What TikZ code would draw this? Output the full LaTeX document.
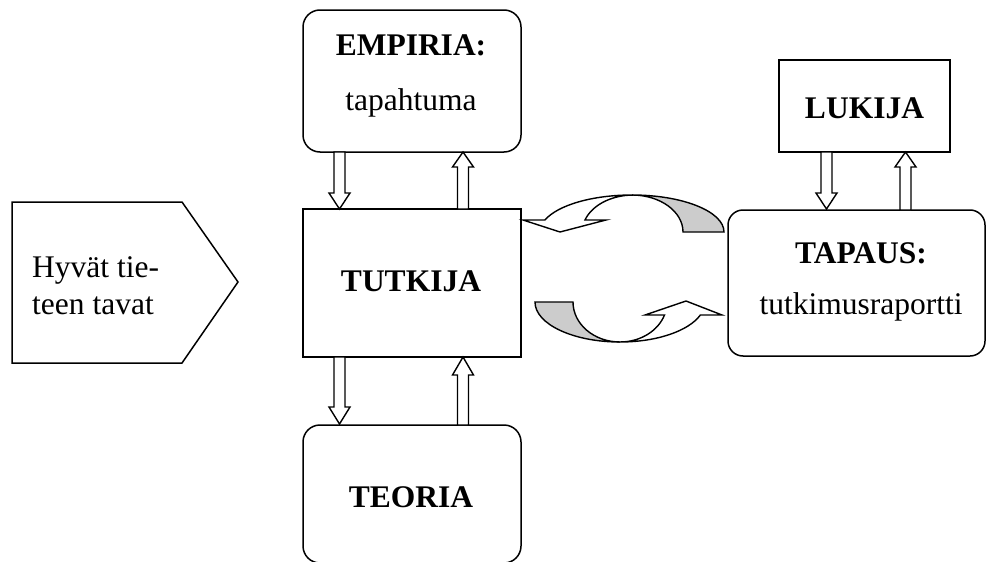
\documentclass[tikz,border=0pt]{standalone}
\usepackage{fontspec}
\setmainfont{Liberation Serif}
\newcommand\vblk[4]{% x, y tail, y tip, y head base
  \draw[blk] (#1-5.5,#2) -- (#1-5.5,#4) -- (#1-10.5,#4) -- (#1,#3) -- (#1+10.5,#4) -- (#1+5.5,#4) -- (#1+5.5,#2) -- cycle;}
\begin{document}
\begin{tikzpicture}[x=1pt,y=-1pt,
  every node/.style={inner sep=0pt},
  box/.style={draw, line width=1.5pt, fill=white},
  rbox/.style={box, rounded corners=17pt},
  lbl/.style={anchor=base, font=\fontsize{31.5}{37}\selectfont},
  blbl/.style={lbl, font=\fontsize{31.5}{37}\selectfont\bfseries},
  blk/.style={draw, line width=1.4pt, fill=white, line join=miter},
  band/.style={draw, line width=1.4pt, line join=miter}]
\useasboundingbox (0,0) rectangle (986,562);
\fill[white] (0,0) rectangle (986,562);

% boxes
\node[rbox, minimum width=218pt, minimum height=142pt] (empiria) at (412,81) {};
\node[box, minimum width=218pt, minimum height=148pt] (tutkija) at (412,283) {};
\node[rbox, minimum width=218pt, minimum height=138pt] (teoria) at (412,494) {};
\node[box, minimum width=171pt, minimum height=92pt] (lukija) at (864.5,106) {};
\node[rbox, rounded corners=15pt, minimum width=257pt, minimum height=146pt] (tapaus) at (856.5,283) {};

% pentagon
\draw[line width=1.5pt, line join=miter] (12,202) -- (182,202) -- (238,282) -- (182,363) -- (12,363) -- cycle;

% texts
\node[blbl] (t1) at (411,55) {EMPIRIA:};
\node[lbl] (t2) at (411,110) {tapahtuma};
\node[blbl] (t3) at (411,291) {TUTKIJA};
\node[blbl] (t4) at (411,507) {TEORIA};
\node[blbl] (t5) at (864.5,118) {LUKIJA};
\node[blbl] (t6) at (861,263) {TAPAUS:};
\node[lbl] (t7) at (861,314) {tutkimusraportti};
\node[lbl, anchor=base west] (t8) at (32,277) {Hyvät tie-};
\node[lbl, anchor=base west] (t9) at (32,314) {teen tavat};

% block arrows
\vblk{339.5}{152}{209}{193}
\vblk{463}{209}{152}{167}
\vblk{339.5}{357}{424}{407}
\vblk{463}{425}{357}{375}
\vblk{826.5}{152}{209}{193}
\vblk{905.5}{210}{152}{167}

% upper curved arrow
\path[band, fill=black!20] (632,195) arc[start angle=270, end angle=360, x radius=92, y radius=37]
  -- (683,232) arc[start angle=360, end angle=270, x radius=51, y radius=37] -- cycle;
\path[band, fill=white] (632,195) arc[start angle=270, end angle=199, x radius=92, y radius=37]
  -- (523,220) -- (560,232) -- (606,220) -- (585,220)
  arc[start angle=199, end angle=270, x radius=51, y radius=37] -- cycle;

% lower curved arrow
\path[band, fill=black!20] (535,302) arc[start angle=180, end angle=90, x radius=85, y radius=40]
  arc[start angle=90, end angle=180, x radius=47, y radius=40] -- cycle;
\path[band, fill=white] (620,342) arc[start angle=90, end angle=19, x radius=85, y radius=40]
  -- (722,315) -- (686,301) -- (645,315) -- (664.5,315)
  arc[start angle=19, end angle=90, x radius=47, y radius=40] -- cycle;
\end{tikzpicture}
\end{document}
